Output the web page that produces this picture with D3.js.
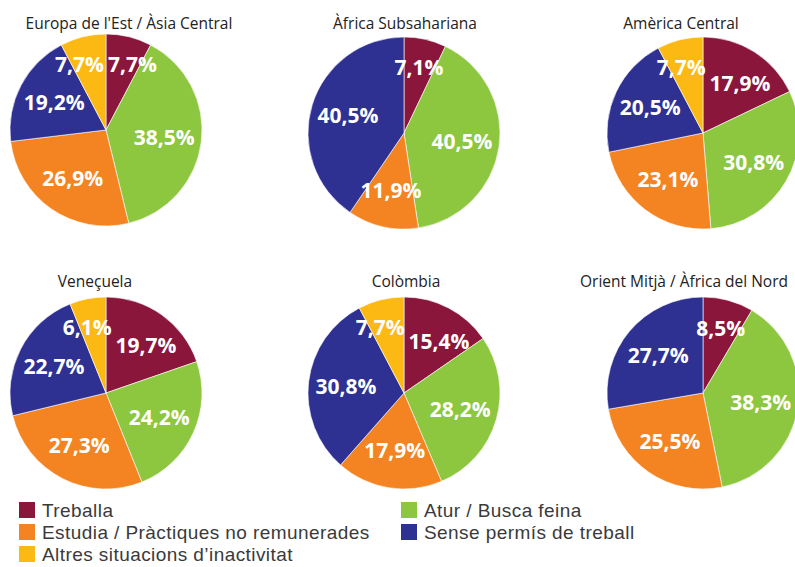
<!DOCTYPE html>
<html>
<head>
<meta charset="utf-8">
<script src="https://cdn.jsdelivr.net/npm/d3@7/dist/d3.min.js"></script>
<style>
  body { margin: 0; background: #fff; }
  svg { display: block; font-family: "Open Sans", "Noto Sans", sans-serif; }
</style>
</head>
<body>
<div id="vizContainer"></div>
<script>
// categories (slice order, clockwise from 12 o'clock)
var categories = ["Treballa", "Atur / Busca feina", "Estudia / Pràctiques no remunerades",
                  "Sense permís de treball", "Altres situacions d\u2019inactivitat"];
var regions = ["Europa de l'Est / Àsia Central", "Àfrica Subsahariana", "Amèrica Central",
               "Veneçuela", "Colòmbia", "Orient Mitjà / Àfrica del Nord"];

// one value per region, in %
var treballa    = [7.7, 7.1, 17.9, 19.7, 15.4, 8.5];
var atur        = [38.5, 40.5, 30.8, 24.2, 28.2, 38.3];
var estudia     = [26.9, 11.9, 23.1, 27.3, 17.9, 25.5];
var sensePermis = [19.2, 40.5, 20.5, 22.7, 30.8, 27.7];
var altres      = [7.7, 0, 7.7, 6.1, 7.7, 0];

var colors = ["#8a163c", "#8dc63f", "#f38421", "#2e3192", "#fdb913"];

// legend layout: [category index, column, row]
var legendItems = [[0, 0, 0], [2, 0, 1], [4, 0, 2], [1, 1, 0], [3, 1, 1]];

var width = 795, height = 567;
var radius = 96;
// pie centres and title offsets
var centers = [[106, 130], [404, 133], [703, 133], [106, 393], [404, 393], [703, 393]];
var titleX = [129, 405, 681, 95, 406, 684];
var titleY = [29, 29, 29, 287, 287, 287];

var svg = d3.select('#vizContainer').append('svg')
    .attr('width', width)
    .attr('height', height)
    .attr('viewBox', '0 0 ' + width + ' ' + height);

var pie = d3.pie().sort(null).value(function(d){ return d.value; });
var arc = d3.arc().innerRadius(0).outerRadius(radius);

regions.forEach(function(name, i){
    var vals = [treballa[i], atur[i], estudia[i], sensePermis[i], altres[i]];
    var data = vals.map(function(v, k){ return {cat: k, value: v}; });
    var arcs = pie(data).filter(function(d){ return d.data.value > 0; });

    var g = svg.append('g')
        .attr('transform', 'translate(' + centers[i][0] + ',' + centers[i][1] + ')');

    g.selectAll('path')
        .data(arcs)
      .enter().append('path')
        .attr('d', arc)
        .attr('fill', function(d){ return colors[d.data.cat]; })
        .attr('stroke', '#fff')
        .attr('stroke-width', 0.6);

    // label positions: centroid, small slices pushed outward
    var labels = arcs.map(function(d){
        var a = (d.startAngle + d.endAngle) / 2;
        var r = d.data.value < 10 ? radius * 0.7 : radius * 0.61;
        return {x: Math.sin(a) * r, y: -Math.cos(a) * r,
                text: d3.format('.1f')(d.data.value).replace('.', ',') + '%'};
    });

    var texts = g.selectAll('text.lbl')
        .data(labels)
      .enter().append('text')
        .attr('class', 'lbl')
        .attr('text-anchor', 'middle')
        .attr('dy', '0.36em')
        .attr('fill', '#fff')
        .attr('font-weight', 700)
        .attr('font-size', 21)
        .text(function(d){ return d.text; });

    texts.each(function(d){ d.w = this.getComputedTextLength(); });

    // simple horizontal de-overlap between neighbouring labels
    for (var p = 0; p < labels.length; p++) {
        for (var q = p + 1; q < labels.length; q++) {
            var A = labels[p], B = labels[q];
            var need = (A.w + B.w) / 2 + 4;
            if (Math.abs(A.y - B.y) < 20 && Math.abs(A.x - B.x) < need) {
                var push = (need - Math.abs(A.x - B.x)) / 2;
                if (A.x > B.x) { A.x += push; B.x -= push; } else { A.x -= push; B.x += push; }
            }
        }
    }

    texts.attr('x', function(d){ return d.x; })
         .attr('y', function(d){ return d.y; });

    svg.append('text')
        .attr('x', titleX[i])
        .attr('y', titleY[i])
        .attr('text-anchor', 'middle')
        .attr('font-size', 15.5)
        .attr('fill', '#222')
        .text(name);
});

// legend
var legend = svg.append('g');
var legX = [19, 401], legY0 = 502, legStep = 22;

var item = legend.selectAll('g')
    .data(legendItems)
  .enter().append('g')
    .attr('transform', function(d){
        return 'translate(' + legX[d[1]] + ',' + (legY0 + d[2] * legStep) + ')';
    });

item.append('rect')
    .attr('width', 16)
    .attr('height', 16)
    .attr('fill', function(d){ return colors[d[0]]; });

// Liberation Sans keeps the line box under the 22px row step
item.append('text')
    .attr('x', 23)
    .attr('y', 15)
    .attr('font-family', '"Liberation Sans", Arial, sans-serif')
    .attr('font-size', 19)
    .attr('letter-spacing', 0.43)
    .attr('fill', '#3a3a3a')
    .text(function(d){ return categories[d[0]]; });
</script>
</body>
</html>
